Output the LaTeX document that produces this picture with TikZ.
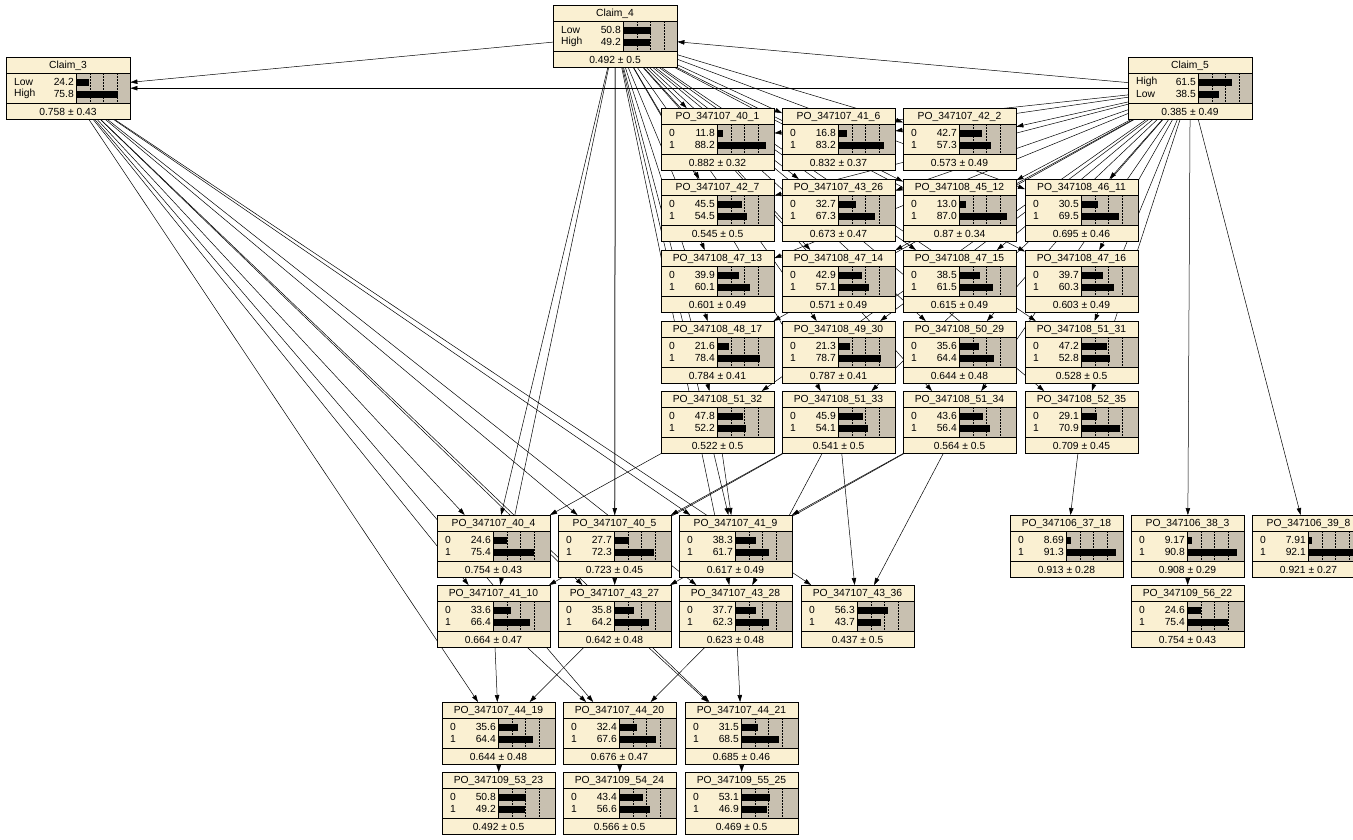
\documentclass[tikz,border=0pt]{standalone}
\usepackage{fontspec}
\setmainfont{Liberation Sans}
\usetikzlibrary{arrows.meta}

\definecolor{bncream}{RGB}{250,240,210}
\definecolor{bngrey}{RGB}{200,192,176}

\pgfdeclarelayer{links}
\pgfsetlayers{links,main}

\tikzset{
  bnbox/.style={draw, fill=bncream, inner sep=0pt, anchor=north west},
  bnarrow/.style={-{Triangle[length=7pt,width=4.5pt]}, line width=0.5pt},
  bntext/.style={font=\fontsize{10.3}{12}\selectfont, inner sep=0pt},
}

\def\bnw{113}
\def\bnoff{56}

% name, x, y, title, state 1, value 1, state 2, value 2, mean
\newcommand{\bnnode}[9]{%
  \node[bnbox, minimum width=\bnw pt, minimum height=62pt] (#1) at (#2,#3) {};
  \fill[bngrey] (#2+\bnoff,#3+16) rectangle (#2+\bnw,#3+46);
  \draw (#2,#3+16) -- (#2+\bnw,#3+16) (#2,#3+46) -- (#2+\bnw,#3+46)
        (#2+\bnoff,#3+16) -- (#2+\bnoff,#3+46);
  \foreach \p in {0.25,0.5,0.75}
    \draw[dash pattern=on 1.5pt off 1.5pt] (#2+\bnoff+55*\p,#3+16) -- (#2+\bnoff+55*\p,#3+46);
  \fill (#2+\bnoff,#3+21.5) rectangle (#2+\bnoff+0.55*#6,#3+28.5);
  \fill (#2+\bnoff,#3+33.5) rectangle (#2+\bnoff+0.55*#8,#3+40.5);
  \draw (#1.north west) rectangle (#1.south east);
  \node[bntext] at (#2+\bnw/2,#3+8.5) {#4};
  \node[bntext, anchor=west] at (#2+8,#3+25) {#5};
  \node[bntext, anchor=east] at (#2+\bnoff-2,#3+25) {#6};
  \node[bntext, anchor=west] at (#2+8,#3+37) {#7};
  \node[bntext, anchor=east] at (#2+\bnoff-2,#3+37) {#8};
  \node[bntext] at (#2+\bnw/2,#3+54.5) {#9};
}

\begin{document}
\begin{tikzpicture}[x=1pt, y=-1pt]
  \useasboundingbox (0,0) rectangle (1353,839);
  \clip (0,0) rectangle (1353,839);

  % claims
  \begin{scope}
    \def\bnw{124}\def\bnoff{70}
    \bnnode{claim4}{553}{5}{Claim\_4}{Low}{50.8}{High}{49.2}{0.492 ± 0.5}
    \bnnode{claim3}{6}{57}{Claim\_3}{Low}{24.2}{High}{75.8}{0.758 ± 0.43}
    \bnnode{claim5}{1128}{57}{Claim\_5}{High}{61.5}{Low}{38.5}{0.385 ± 0.49}
  \end{scope}

  % upper block
  \bnnode{po40-1}{661}{108}{PO\_347107\_40\_1}{0}{11.8}{1}{88.2}{0.882 ± 0.32}
  \bnnode{po41-6}{782}{108}{PO\_347107\_41\_6}{0}{16.8}{1}{83.2}{0.832 ± 0.37}
  \bnnode{po42-2}{903}{108}{PO\_347107\_42\_2}{0}{42.7}{1}{57.3}{0.573 ± 0.49}

  \bnnode{po42-7}{661}{179}{PO\_347107\_42\_7}{0}{45.5}{1}{54.5}{0.545 ± 0.5}
  \bnnode{po43-26}{782}{179}{PO\_347107\_43\_26}{0}{32.7}{1}{67.3}{0.673 ± 0.47}
  \bnnode{po45-12}{903}{179}{PO\_347108\_45\_12}{0}{13.0}{1}{87.0}{0.87 ± 0.34}
  \bnnode{po46-11}{1025}{179}{PO\_347108\_46\_11}{0}{30.5}{1}{69.5}{0.695 ± 0.46}

  \bnnode{po47-13}{661}{250}{PO\_347108\_47\_13}{0}{39.9}{1}{60.1}{0.601 ± 0.49}
  \bnnode{po47-14}{782}{250}{PO\_347108\_47\_14}{0}{42.9}{1}{57.1}{0.571 ± 0.49}
  \bnnode{po47-15}{903}{250}{PO\_347108\_47\_15}{0}{38.5}{1}{61.5}{0.615 ± 0.49}
  \bnnode{po47-16}{1025}{250}{PO\_347108\_47\_16}{0}{39.7}{1}{60.3}{0.603 ± 0.49}

  \bnnode{po48-17}{661}{321}{PO\_347108\_48\_17}{0}{21.6}{1}{78.4}{0.784 ± 0.41}
  \bnnode{po49-30}{782}{321}{PO\_347108\_49\_30}{0}{21.3}{1}{78.7}{0.787 ± 0.41}
  \bnnode{po50-29}{903}{321}{PO\_347108\_50\_29}{0}{35.6}{1}{64.4}{0.644 ± 0.48}
  \bnnode{po51-31}{1025}{321}{PO\_347108\_51\_31}{0}{47.2}{1}{52.8}{0.528 ± 0.5}

  \bnnode{po51-32}{661}{391}{PO\_347108\_51\_32}{0}{47.8}{1}{52.2}{0.522 ± 0.5}
  \bnnode{po51-33}{782}{391}{PO\_347108\_51\_33}{0}{45.9}{1}{54.1}{0.541 ± 0.5}
  \bnnode{po51-34}{903}{391}{PO\_347108\_51\_34}{0}{43.6}{1}{56.4}{0.564 ± 0.5}
  \bnnode{po52-35}{1025}{391}{PO\_347108\_52\_35}{0}{29.1}{1}{70.9}{0.709 ± 0.45}

  % lower block
  \bnnode{po40-4}{437}{515}{PO\_347107\_40\_4}{0}{24.6}{1}{75.4}{0.754 ± 0.43}
  \bnnode{po40-5}{558}{515}{PO\_347107\_40\_5}{0}{27.7}{1}{72.3}{0.723 ± 0.45}
  \bnnode{po41-9}{679}{515}{PO\_347107\_41\_9}{0}{38.3}{1}{61.7}{0.617 ± 0.49}

  \bnnode{po41-10}{437}{585}{PO\_347107\_41\_10}{0}{33.6}{1}{66.4}{0.664 ± 0.47}
  \bnnode{po43-27}{558}{585}{PO\_347107\_43\_27}{0}{35.8}{1}{64.2}{0.642 ± 0.48}
  \bnnode{po43-28}{679}{585}{PO\_347107\_43\_28}{0}{37.7}{1}{62.3}{0.623 ± 0.48}
  \bnnode{po43-36}{801}{585}{PO\_347107\_43\_36}{0}{56.3}{1}{43.7}{0.437 ± 0.5}

  \bnnode{po44-19}{442}{702}{PO\_347107\_44\_19}{0}{35.6}{1}{64.4}{0.644 ± 0.48}
  \bnnode{po44-20}{563}{702}{PO\_347107\_44\_20}{0}{32.4}{1}{67.6}{0.676 ± 0.47}
  \bnnode{po44-21}{685}{702}{PO\_347107\_44\_21}{0}{31.5}{1}{68.5}{0.685 ± 0.46}

  \bnnode{po53-23}{442}{772}{PO\_347109\_53\_23}{0}{50.8}{1}{49.2}{0.492 ± 0.5}
  \bnnode{po54-24}{563}{772}{PO\_347109\_54\_24}{0}{43.4}{1}{56.6}{0.566 ± 0.5}
  \bnnode{po55-25}{685}{772}{PO\_347109\_55\_25}{0}{53.1}{1}{46.9}{0.469 ± 0.5}

  % right block
  \bnnode{po37-18}{1010}{515}{PO\_347106\_37\_18}{0}{8.69}{1}{91.3}{0.913 ± 0.28}
  \bnnode{po38-3}{1131}{515}{PO\_347106\_38\_3}{0}{9.17}{1}{90.8}{0.908 ± 0.29}
  \bnnode{po39-8}{1252}{515}{PO\_347106\_39\_8}{0}{7.91}{1}{92.1}{0.921 ± 0.27}
  \bnnode{po56-22}{1131}{585}{PO\_347109\_56\_22}{0}{24.6}{1}{75.4}{0.754 ± 0.43}

  % links
  \begin{pgfonlayer}{links}
    \fill[white] (0,0) rectangle (1353,839);
    \draw[bnarrow] (claim4) -- (claim3);
    \draw[bnarrow] (claim5) -- (claim4);
    \draw[bnarrow] (claim5) -- (claim3);
    \foreach \g in {po40-1,po41-6,po42-2,po42-7,po43-26,po45-12,po46-11,
                    po47-13,po47-14,po47-15,po47-16,po48-17,po49-30,po50-29,
                    po51-31,po51-32,po51-33,po51-34,po52-35} {
      \draw[bnarrow] (claim4) -- (\g);
      \draw[bnarrow] (claim5) -- (\g);
    }
    \foreach \g in {po40-4,po40-5,po41-9,po41-10,po43-27,po43-28}
      \draw[bnarrow] (claim4) -- (\g);
    \foreach \g in {po40-4,po40-5,po41-9,po41-10,po43-27,po43-28,po43-36,
                    po44-19,po44-20,po44-21}
      \draw[bnarrow] (claim3) -- (\g);
    \draw[bnarrow] (po51-32) -- (po40-4);
    \draw[bnarrow] (po51-32) -- (po41-9);
    \draw[bnarrow] (po51-33) -- (po40-5);
    \draw[bnarrow] (po51-33) -- (po41-10);
    \draw[bnarrow] (po51-33) -- (po43-28);
    \draw[bnarrow] (po51-33) -- (po43-36);
    \draw[bnarrow] (po51-34) -- (po41-9);
    \draw[bnarrow] (po51-34) -- (po43-27);
    \draw[bnarrow] (po51-34) -- (po43-36);
    \draw[bnarrow] (po41-10) -- (po44-19);
    \draw[bnarrow] (po41-10) -- (po44-20);
    \draw[bnarrow] (po43-27) -- (po44-19);
    \draw[bnarrow] (po43-27) -- (po44-21);
    \draw[bnarrow] (po43-28) -- (po44-20);
    \draw[bnarrow] (po43-28) -- (po44-21);
    \draw[bnarrow] (po44-19) -- (po53-23);
    \draw[bnarrow] (po44-20) -- (po54-24);
    \draw[bnarrow] (po44-21) -- (po55-25);
    \draw[bnarrow] (po52-35) -- (po37-18);
    \draw[bnarrow] (claim5) -- (po38-3);
    \draw[bnarrow] (claim5) -- (po39-8);
    \draw[bnarrow] (po38-3) -- (po56-22);
  \end{pgfonlayer}
\end{tikzpicture}
\end{document}
